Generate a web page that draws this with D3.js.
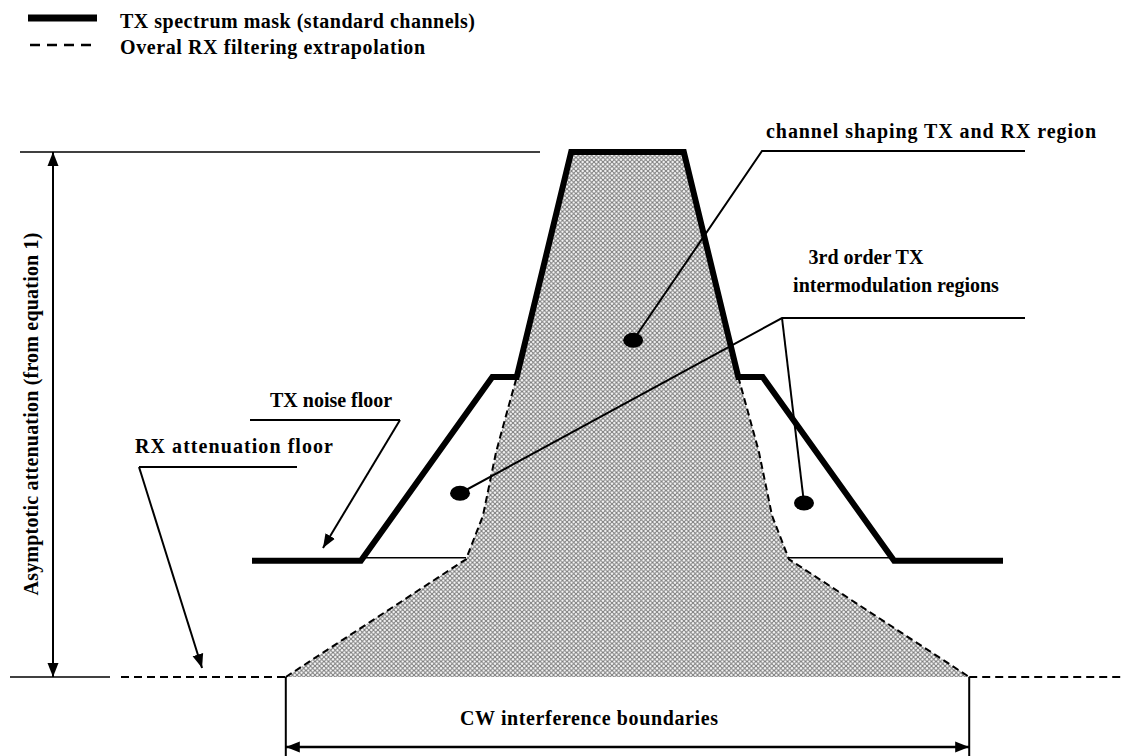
<!DOCTYPE html>
<html>
<head>
<meta charset="utf-8">
<script src="https://cdn.jsdelivr.net/npm/d3@7/dist/d3.min.js"></script>
<style>
  body { margin: 0; background: #fff; }
  svg text { font-family: "Liberation Serif", "Times New Roman", serif; font-weight: bold; font-size: 20px; fill: #000; }
</style>
</head>
<body>
<svg id="chart" width="1122" height="756"></svg>
<script>
// TX spectrum mask (frequency offset in channel units, level in dB)
var maskFreq  = [-10, -7.1, -3.6, -2.95, -1.5, 1.5, 2.95, 3.6, 7.1, 10];
var maskLevel = [-54.5, -54.5, -30, -30, 0, 0, -30, -30, -54.5, -54.5];

// Overall RX filtering extrapolation (left half, mirrored for the right)
var rxFreq  = [-9.1, -4.3, -3.85, -3.5, -3.2, -2.95];
var rxLevel = [-70, -54.3, -48.5, -40, -34.5, -30];

// levels of the reference lines
var topLevel = 0;
var floorLevel = -70;
var cwBounds = [-9.1, 9.1];

// legend entries
var legendLabels = ["TX spectrum mask (standard channels)", "Overal RX filtering extrapolation"];
var legendWidths = [355, 305];

var svg = d3.select("#chart");

var x = d3.scaleLinear().domain([-10, 10]).range([252, 1003]);
var y = d3.scaleLinear().domain([0, -70]).range([152, 677]);

var defs = svg.append("defs");
var pat = defs.append("pattern")
  .attr("id", "hatch")
  .attr("patternUnits", "userSpaceOnUse")
  .attr("width", 4.5)
  .attr("height", 4.5);
pat.append("path").attr("d", "M0,0L4.5,4.5M4.5,0L0,4.5")
  .attr("stroke", "#7a7a7a").attr("stroke-width", 1.1);

defs.append("marker")
  .attr("id", "arrow")
  .attr("viewBox", "0 -6 14 12")
  .attr("refX", 14).attr("refY", 0)
  .attr("markerWidth", 14).attr("markerHeight", 12)
  .attr("markerUnits", "userSpaceOnUse")
  .attr("orient", "auto-start-reverse")
  .append("path").attr("d", "M0,-5.5L14,0L0,5.5Z").attr("fill", "#000");

var mask = maskFreq.map((f, i) => [f, maskLevel[i]]);
var rxLeft = rxFreq.map((f, i) => [f, rxLevel[i]]);
var rxRight = rxLeft.map(d => [-d[0], d[1]]).reverse();

var line = d3.line().x(d => x(d[0])).y(d => y(d[1]));

// hatched region between the RX extrapolation and the top of the mask
var region = rxLeft.concat(mask.slice(4, 6)).concat(rxRight);
svg.append("path")
  .attr("d", line(region) + "Z")
  .attr("fill", "url(#hatch)")
  .attr("stroke", "none");

// thin reference lines
function hline(x1, x2, lvl, dash) {
  svg.append("line")
    .attr("x1", x1).attr("x2", x2)
    .attr("y1", y(lvl)).attr("y2", y(lvl))
    .attr("stroke", "#000").attr("stroke-width", dash ? 2 : 1.5)
    .attr("stroke-dasharray", dash ? "8,5" : null);
}
hline(20, x(-2.33), topLevel, false);
hline(10, 110, floorLevel, false);
hline(121, x(cwBounds[0]), floorLevel, true);
hline(x(cwBounds[1]), 1122, floorLevel, true);
hline(x(-7.1), x(-4.3), -54.1, false);
hline(x(4.3), x(7.1), -54.1, false);

// RX extrapolation dashed curves
[rxLeft, rxRight].forEach(function(pts) {
  svg.append("path")
    .attr("d", line(pts))
    .attr("fill", "none")
    .attr("stroke", "#000")
    .attr("stroke-width", 2)
    .attr("stroke-dasharray", "7,4");
});

// TX mask
svg.append("path")
  .attr("d", line(mask))
  .attr("fill", "none")
  .attr("stroke", "#000")
  .attr("stroke-width", 6)
  .attr("stroke-linejoin", "miter");

// vertical attenuation arrow
svg.append("line")
  .attr("x1", 53).attr("x2", 53)
  .attr("y1", y(topLevel)).attr("y2", y(floorLevel))
  .attr("stroke", "#000").attr("stroke-width", 2)
  .attr("marker-start", "url(#arrow)").attr("marker-end", "url(#arrow)");

svg.append("text")
  .attr("transform", "translate(38,414) rotate(-90)")
  .attr("text-anchor", "middle")
  .attr("textLength", 363).attr("lengthAdjust", "spacing")
  .text("Asymptotic attenuation (from equation 1)");

// CW interference boundaries
cwBounds.forEach(function(b) {
  svg.append("line")
    .attr("x1", x(b)).attr("x2", x(b))
    .attr("y1", y(floorLevel)).attr("y2", 756)
    .attr("stroke", "#000").attr("stroke-width", 2);
});
svg.append("line")
  .attr("x1", x(cwBounds[0])).attr("x2", x(cwBounds[1]))
  .attr("y1", 747).attr("y2", 747)
  .attr("stroke", "#000").attr("stroke-width", 2.5)
  .attr("marker-start", "url(#arrow)").attr("marker-end", "url(#arrow)");
svg.append("text")
  .attr("x", 589).attr("y", 725)
  .attr("text-anchor", "middle")
  .attr("textLength", 258).attr("lengthAdjust", "spacing")
  .text("CW interference boundaries");

// callouts
function poly(pts, w) {
  svg.append("path")
    .attr("d", d3.line()(pts))
    .attr("fill", "none").attr("stroke", "#000").attr("stroke-width", w || 2);
}
function dot(f, lvl) {
  svg.append("ellipse")
    .attr("cx", x(f)).attr("cy", y(lvl))
    .attr("rx", 10).attr("ry", 7.5)
    .attr("fill", "#000");
}

// channel shaping
poly([[1025, 151], [762, 151], [x(0.15), y(-25.1)]]);
dot(0.15, -25.1);
svg.append("text").attr("x", 766).attr("y", 138)
  .attr("textLength", 330).attr("lengthAdjust", "spacing")
  .text("channel shaping TX and RX region");

// 3rd order intermodulation
poly([[1025, 318], [782, 318], [x(-4.46), y(-45.5)]]);
poly([[782, 318], [x(4.7), y(-46.8)]]);
dot(-4.46, -45.5);
dot(4.7, -46.8);
svg.append("text").attr("x", 866).attr("y", 264).attr("text-anchor", "middle").text("3rd order TX");
svg.append("text").attr("x", 896).attr("y", 292).attr("text-anchor", "middle").text("intermodulation regions");

// TX noise floor
poly([[250, 420], [400, 420]]);
svg.append("line")
  .attr("x1", 400).attr("y1", 420).attr("x2", x(-8.11)).attr("y2", y(-52.8))
  .attr("stroke", "#000").attr("stroke-width", 2)
  .attr("marker-end", "url(#arrow)");
svg.append("text").attr("x", 270).attr("y", 407).text("TX noise floor");

// RX attenuation floor
poly([[297, 467], [139, 467]]);
svg.append("line")
  .attr("x1", 139).attr("y1", 467).attr("x2", x(-11.33)).attr("y2", y(-68.8))
  .attr("stroke", "#000").attr("stroke-width", 2)
  .attr("marker-end", "url(#arrow)");
svg.append("text").attr("x", 135).attr("y", 453)
  .attr("textLength", 198).attr("lengthAdjust", "spacing")
  .text("RX attenuation floor");

// legend
var legend = svg.append("g").attr("class", "legend");
legend.append("line")
  .attr("x1", 28).attr("x2", 97).attr("y1", 18).attr("y2", 18)
  .attr("stroke", "#000").attr("stroke-width", 7);
legend.append("line")
  .attr("x1", 30).attr("x2", 91).attr("y1", 45).attr("y2", 45)
  .attr("stroke", "#000").attr("stroke-width", 2.5)
  .attr("stroke-dasharray", "10,7");
legend.selectAll("text.lab")
  .data(legendLabels)
  .enter().append("text")
  .attr("class", "lab")
  .attr("x", 120)
  .attr("y", (d, i) => 28 + i * 26)
  .attr("textLength", (d, i) => legendWidths[i])
  .attr("lengthAdjust", "spacing")
  .text(d => d);
</script>
</body>
</html>
